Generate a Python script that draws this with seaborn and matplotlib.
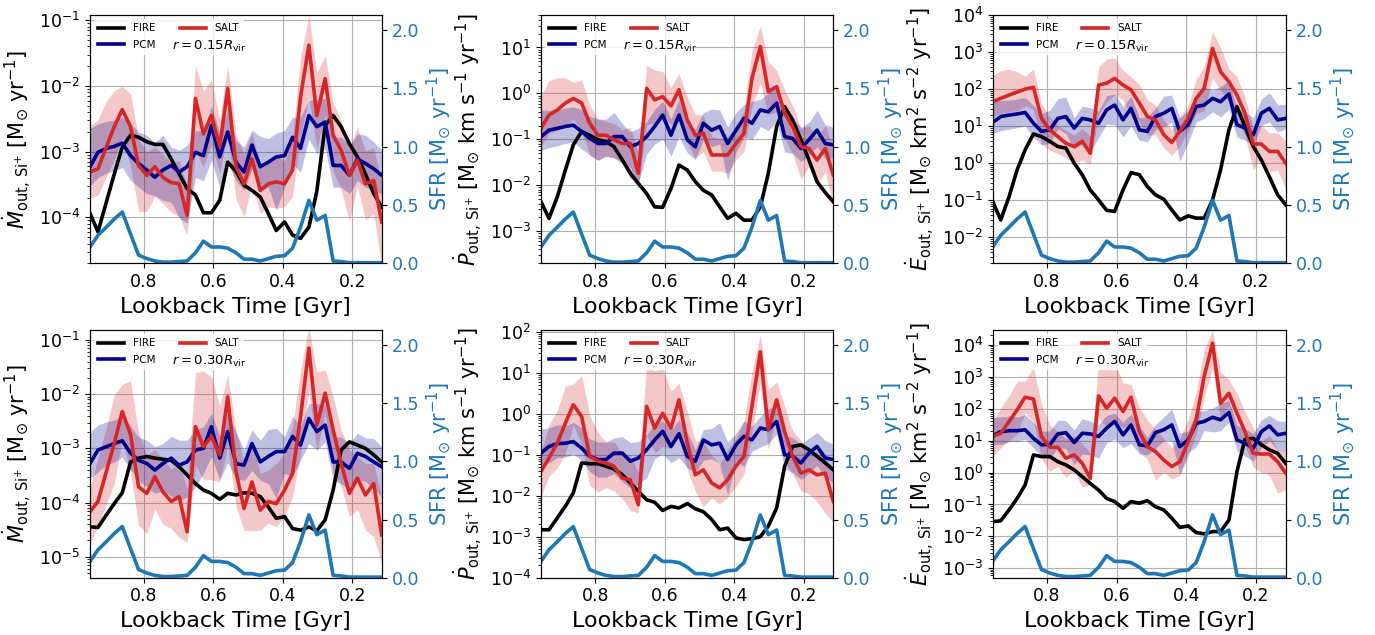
import numpy as np
import matplotlib
matplotlib.use("Agg")
import matplotlib.pyplot as plt
from matplotlib.ticker import LogLocator
import seaborn as sns

# ---------------- data (log10 of outflow rates unless noted) ----------------
lookback = [0.956, 0.933, 0.909, 0.886, 0.863, 0.839, 0.816, 0.792, 0.769, 0.746,
            0.722, 0.699, 0.676, 0.652, 0.629, 0.606, 0.582, 0.559, 0.535, 0.512,
            0.489, 0.465, 0.442, 0.419, 0.395, 0.372, 0.349, 0.325, 0.302, 0.278,
            0.255, 0.232, 0.208, 0.185, 0.162, 0.138, 0.115]

sfr = [0.14, 0.24, 0.31, 0.38, 0.44, 0.25, 0.07, 0.04, 0.02, 0.01, 0.01, 0.015, 0.02,
       0.09, 0.19, 0.14, 0.14, 0.13, 0.09, 0.035, 0.035, 0.02, 0.04, 0.06, 0.065, 0.13,
       0.31, 0.54, 0.37, 0.41, 0.02, 0.015, 0.005, 0.005, 0.005, 0.005, 0.005]

fire_mdot_15 = [-3.94, -4.22, -3.77, -3.34, -2.93, -2.75, -2.78, -2.85, -2.89, -2.89, -3.11, -3.34, -3.56,
                -3.66, -3.93, -3.93, -3.74, -3.16, -3.30, -3.51, -3.59, -3.69, -3.94, -4.20, -4.07, -4.27,
                -4.32, -4.15, -3.60, -2.60, -2.45, -2.62, -2.88, -3.08, -3.34, -3.64, -3.84]
salt_mdot_15 = [-3.31, -3.26, -2.93, -2.62, -2.36, -2.62, -3.21, -3.36, -3.23, -3.39, -3.47, -3.49, -3.97,
                -2.19, -2.73, -2.45, -2.92, -2.04, -3.23, -3.49, -3.11, -3.59, -3.49, -3.46, -3.49, -3.28,
                -2.17, -1.38, -2.45, -1.89, -2.75, -2.98, -3.36, -3.13, -3.49, -3.44, -4.07]
pcm_mdot_15 = [-3.23, -3.01, -2.95, -2.92, -2.87, -3.06, -3.18, -3.28, -3.39, -3.28, -3.21, -3.31, -3.23,
               -3.01, -3.06, -2.60, -3.08, -2.70, -3.16, -3.31, -2.90, -3.23, -3.16, -3.08, -3.06, -2.78,
               -2.95, -2.45, -2.62, -2.55, -3.21, -3.21, -3.36, -3.11, -3.18, -3.26, -3.36]

fire_pdot_15 = [-2.36, -2.72, -2.25, -1.67, -1.12, -0.83, -0.91, -1.01, -1.05, -1.16, -1.45, -1.74, -1.96,
                -2.18, -2.47, -2.48, -2.07, -1.56, -1.67, -1.92, -2.11, -2.21, -2.47, -2.72, -2.61, -2.76,
                -2.76, -2.47, -1.74, -0.72, -0.29, -0.58, -1.01, -1.45, -1.92, -2.16, -2.36]
salt_pdot_15 = [-0.76, -0.47, -0.36, -0.21, -0.11, -0.21, -0.65, -0.91, -0.91, -1.01, -1.09, -1.09, -1.74,
                0.11, -0.14, -0.07, -0.27, 0.08, -0.58, -0.91, -0.87, -1.34, -1.34, -1.34, -1.09, -0.87,
                0.33, 1.02, 0.04, 0.15, -0.43, -0.72, -1.16, -1.20, -1.45, -1.20, -1.78]
pcm_pdot_15 = [-0.94, -0.80, -0.76, -0.72, -0.69, -0.83, -0.98, -1.09, -1.09, -0.94, -0.94, -1.16, -1.09,
               -0.94, -0.72, -0.47, -0.91, -0.47, -1.01, -1.16, -0.65, -0.80, -0.72, -1.09, -0.80, -0.54,
               -0.65, -0.36, -0.40, -0.21, -0.94, -0.98, -1.20, -1.01, -0.80, -1.09, -1.12]

fire_edot_15 = [-1.03, -1.53, -0.90, -0.18, 0.36, 0.79, 0.72, 0.59, 0.45, 0.41, 0.00, -0.31, -0.72,
                -0.99, -1.27, -1.30, -0.72, -0.25, -0.31, -0.63, -0.85, -0.97, -1.26, -1.53, -1.42, -1.48,
                -1.48, -0.99, -0.18, 0.90, 1.53, 0.99, 0.45, 0.09, -0.36, -0.85, -1.12]
salt_edot_15 = [1.66, 1.75, 1.84, 1.92, 2.00, 2.05, 1.21, 0.90, 0.72, 0.54, 0.45, 0.59, 0.27,
                2.11, 2.16, 2.29, 2.11, 1.98, 1.62, 1.26, 1.17, 0.77, 0.56, 0.86, 1.21, 1.75,
                2.02, 3.10, 2.47, 2.20, 1.84, 1.35, 0.52, 0.52, 0.32, 0.32, 0.00]
pcm_edot_15 = [1.10, 1.26, 1.30, 1.33, 1.37, 1.08, 0.86, 0.90, 1.21, 1.26, 0.95, 1.21, 1.17,
               1.08, 1.44, 1.57, 1.17, 1.48, 0.90, 0.86, 1.26, 1.35, 1.48, 0.86, 1.04, 1.53,
               1.57, 1.75, 1.66, 1.87, 1.04, 0.95, 0.77, 1.35, 1.48, 1.17, 1.21]

fire_mdot_30 = [-4.45, -4.46, -4.23, -4.02, -3.82, -3.25, -3.18, -3.15, -3.18, -3.20, -3.22, -3.34, -3.49,
                -3.65, -3.77, -3.83, -3.94, -3.83, -3.86, -3.82, -3.83, -3.89, -4.08, -4.29, -4.26, -4.48,
                -4.51, -4.45, -4.52, -4.32, -3.77, -3.03, -2.88, -2.94, -3.00, -3.12, -3.25]
salt_mdot_30 = [-4.17, -3.98, -3.43, -2.91, -2.32, -2.75, -3.71, -3.83, -3.52, -3.80, -3.98, -3.89, -4.54,
                -2.60, -2.97, -2.78, -3.12, -2.05, -3.43, -4.11, -3.62, -4.14, -3.98, -4.02, -3.77, -3.46,
                -2.42, -1.15, -2.57, -1.98, -2.66, -3.28, -3.83, -3.55, -3.86, -3.65, -4.60]
pcm_mdot_30 = [-3.28, -3.03, -2.97, -2.91, -2.86, -3.09, -3.22, -3.28, -3.40, -3.28, -3.18, -3.31, -3.25,
               -3.03, -3.00, -2.60, -3.18, -2.69, -3.28, -3.31, -2.91, -3.25, -3.15, -3.06, -3.06, -2.78,
               -2.94, -2.45, -2.69, -2.57, -3.25, -3.25, -3.37, -3.09, -3.15, -3.25, -3.34]

fire_pdot_30 = [-2.83, -2.83, -2.54, -2.26, -1.93, -1.20, -1.22, -1.22, -1.28, -1.35, -1.49, -1.69, -1.89,
                -2.10, -2.16, -2.36, -2.26, -2.30, -2.19, -2.32, -2.39, -2.58, -2.83, -2.79, -3.03, -3.07,
                -3.05, -3.00, -2.74, -2.30, -1.28, -0.80, -0.76, -0.88, -1.04, -1.20, -1.37]
salt_pdot_30 = [-1.41, -1.08, -0.72, -0.23, 0.22, -0.07, -1.04, -1.16, -1.20, -1.28, -1.57, -1.61, -2.22,
                0.18, -0.35, 0.01, -0.35, 0.34, -0.72, -1.49, -1.37, -1.69, -1.81, -1.61, -1.28, -1.04,
                0.18, 1.51, -0.39, 0.34, -0.43, -1.04, -1.45, -1.37, -1.49, -1.45, -2.14]
pcm_pdot_30 = [-0.96, -0.80, -0.73, -0.72, -0.68, -0.84, -1.04, -1.12, -1.12, -0.96, -0.96, -1.16, -1.08,
               -0.88, -0.64, -0.43, -0.80, -0.49, -1.04, -1.16, -0.64, -0.76, -0.72, -1.12, -0.76, -0.55,
               -0.64, -0.35, -0.39, -0.19, -1.00, -1.04, -1.20, -0.96, -0.80, -1.08, -1.12]

fire_edot_30 = [-1.54, -1.51, -1.17, -0.81, -0.39, 0.55, 0.50, 0.50, 0.34, 0.24, 0.08, -0.13, -0.34,
                -0.55, -0.81, -0.91, -1.12, -0.91, -0.96, -0.88, -1.07, -1.17, -1.43, -1.72, -1.67, -1.88,
                -1.92, -1.85, -1.85, -1.49, 0.03, 1.04, 1.07, 0.87, 0.71, 0.60, 0.29]
salt_edot_30 = [1.13, 1.23, 1.60, 1.96, 2.36, 2.30, 1.13, 0.79, 0.79, 0.45, 0.55, 0.29, -0.18,
                2.40, 2.01, 2.33, 1.91, 2.36, 1.28, 0.81, 0.66, 0.39, 0.19, 0.34, 0.97, 1.65,
                3.01, 4.05, 2.17, 2.48, 1.86, 1.28, 0.60, 0.58, 0.58, 0.34, -0.02]
pcm_edot_30 = [1.15, 1.28, 1.31, 1.31, 1.34, 1.07, 0.87, 0.87, 1.21, 1.25, 0.94, 1.23, 1.21,
               1.13, 1.39, 1.60, 1.18, 1.49, 0.87, 0.83, 1.25, 1.34, 1.49, 0.81, 1.02, 1.54,
               1.60, 1.73, 1.65, 1.88, 1.02, 0.92, 0.76, 1.28, 1.46, 1.18, 1.23]

# band widths (dex above / below the median line)
salt_up_15 = [0.70, 0.75, 0.70, 0.55, 0.35, 0.50, 0.40, 0.35, 0.30, 0.35, 0.30, 0.35, 0.45, 0.50, 0.65, 0.55,
              0.40, 0.35, 0.50, 0.45, 0.40, 0.40, 0.35, 0.40, 0.35, 0.50, 0.60, 0.45, 0.65, 0.35, 0.50, 0.45,
              0.40, 0.50, 0.50, 0.50, 0.60]
salt_dn_15 = [0.40, 0.40, 0.45, 0.50, 0.45, 0.60, 0.70, 0.55, 0.45, 0.40, 0.45, 0.50, 0.30, 0.80, 0.50, 0.45,
              0.40, 0.70, 0.50, 0.50, 0.40, 0.35, 0.35, 0.40, 0.35, 0.40, 0.60, 0.80, 0.50, 0.55, 0.55, 0.60,
              0.70, 0.40, 0.55, 0.50, 0.70]
pcm_up_15 = [0.58, 0.43, 0.41, 0.40, 0.40, 0.48, 0.48, 0.53, 0.53, 0.53, 0.28, 0.33, 0.33, 0.33, 0.38, 0.30,
             0.36, 0.33, 0.33, 0.38, 0.23, 0.46, 0.36, 0.36, 0.38, 0.30, 0.48, 0.23, 0.41, 0.36, 0.43, 0.43,
             0.46, 0.38, 0.43, 0.41, 0.38]
pcm_dn_15 = [0.30, 0.38, 0.38, 0.37, 0.37, 0.38, 0.36, 0.36, 0.28, 0.46, 0.56, 0.69, 0.86, 0.38, 0.38, 0.53,
             0.46, 0.48, 0.28, 0.28, 0.36, 0.36, 0.38, 0.81, 0.48, 0.41, 0.36, 0.36, 0.41, 0.41, 0.33, 0.33,
             0.28, 0.33, 0.36, 0.33, 0.28]
salt_up_30 = [0.45, 0.80, 0.80, 0.90, 0.50, 1.00, 1.00, 0.70, 0.50, 0.60, 0.60, 0.60, 0.80, 1.00, 1.40, 1.10,
              0.90, 0.40, 0.77, 0.83, 0.70, 0.68, 0.58, 0.74, 0.68, 0.86, 0.86, 0.40, 0.98, 0.43, 0.62, 0.62,
              0.80, 0.40, 0.58, 0.37, 0.70]
salt_dn_30 = [0.60, 0.45, 0.60, 0.75, 0.50, 0.70, 0.70, 0.75, 0.60, 0.60, 0.50, 0.75, 0.20, 0.70, 0.60, 0.80,
              0.50, 0.90, 0.65, 0.40, 0.90, 0.37, 0.40, 0.43, 0.49, 0.43, 0.68, 0.77, 0.49, 0.37, 0.74, 0.43,
              0.43, 0.58, 0.65, 0.98, 0.52]
pcm_up_30 = [0.58, 0.46, 0.46, 0.43, 0.47, 0.50, 0.43, 0.43, 0.43, 0.37, 0.40, 0.46, 0.40, 0.37, 0.40, 0.25,
             0.40, 0.34, 0.58, 0.28, 0.25, 0.40, 0.50, 0.43, 0.28, 0.37, 0.34, 0.28, 0.52, 0.37, 0.46, 0.46,
             0.46, 0.37, 0.34, 0.43, 0.37]
pcm_dn_30 = [0.28, 0.40, 0.34, 0.34, 0.30, 0.30, 0.37, 0.43, 0.43, 0.50, 0.70, 0.65, 0.65, 0.68, 0.46, 0.55,
             0.40, 0.58, 0.28, 0.28, 0.50, 0.34, 0.50, 0.86, 0.40, 0.74, 0.28, 0.46, 0.34, 0.31, 0.34, 0.40,
             0.40, 0.50, 0.46, 0.49, 0.55]

ylabels = [r'$\dot{M}_{\rm out,\,Si^{+}}$ [M$_{\odot}$ yr$^{-1}$]',
           r'$\dot{P}_{\rm out,\,Si^{+}}$ [M$_{\odot}$ km s$^{-1}$ yr$^{-1}$]',
           r'$\dot{E}_{\rm out,\,Si^{+}}$ [M$_{\odot}$ km$^{2}$ s$^{-2}$ yr$^{-1}$]']
radius_labels = [r'$r = 0.15R_{\rm vir}$', r'$r = 0.30R_{\rm vir}$']
xticks = [0.8, 0.6, 0.4, 0.2]
sfr_ticks = [0.0, 0.5, 1.0, 1.5, 2.0]

# ---------------- figure ----------------
W, H = 1375, 635
fig = plt.figure(figsize=(W / 100, H / 100), dpi=100)

C_FIRE = 'black'
C_SALT = '#d62728'
C_PCM = '#00008b'
C_SFR = '#1f77b4'

panels = [
    (fire_mdot_15, salt_mdot_15, pcm_mdot_15, salt_up_15, salt_dn_15, pcm_up_15, pcm_dn_15, 0, (2.0e-5, 0.12), 0, (90, 381.7, 15, 263.3)),
    (fire_pdot_15, salt_pdot_15, pcm_pdot_15, salt_up_15, salt_dn_15, pcm_up_15, pcm_dn_15, 1, (2.0e-4, 51), 0, (541, 833.3, 15, 263.3)),
    (fire_edot_15, salt_edot_15, pcm_edot_15, salt_up_15, salt_dn_15, pcm_up_15, pcm_dn_15, 2, (2.0e-3, 1.0e4), 0, (992.7, 1285.7, 15, 263.3)),
    (fire_mdot_30, salt_mdot_30, pcm_mdot_30, salt_up_30, salt_dn_30, pcm_up_30, pcm_dn_30, 0, (4.1e-6, 0.153), 1, (90, 381.7, 330, 577.7)),
    (fire_pdot_30, salt_pdot_30, pcm_pdot_30, salt_up_30, salt_dn_30, pcm_up_30, pcm_dn_30, 1, (1.0e-4, 110), 1, (541, 833.3, 330, 577.7)),
    (fire_edot_30, salt_edot_30, pcm_edot_30, salt_up_30, salt_dn_30, pcm_up_30, pcm_dn_30, 2, (5.1e-4, 2.9e4), 1, (992.7, 1285.7, 330, 577.7)),
]

t = np.array(lookback)
LW = 2.6

for fire, salt, pcm, s_up, s_dn, p_up, p_dn, yl, ylim, ri, (x0, x1, y0, y1) in panels:
    ax = fig.add_axes([x0 / W, 1 - y1 / H, (x1 - x0) / W, (y1 - y0) / H])
    ax.set_yscale('log')
    salt_a = np.array(salt)
    pcm_a = np.array(pcm)
    ax.fill_between(t, 10 ** (salt_a - np.array(s_dn)), 10 ** (salt_a + np.array(s_up)),
                    color=C_SALT, alpha=0.25, lw=0, zorder=1)
    ax.fill_between(t, 10 ** (pcm_a - np.array(p_dn)), 10 ** (pcm_a + np.array(p_up)),
                    color=C_PCM, alpha=0.25, lw=0, zorder=1)
    sns.lineplot(x=t, y=10 ** np.array(fire), ax=ax, color=C_FIRE, lw=LW, label='FIRE', zorder=3)
    sns.lineplot(x=t, y=10 ** pcm_a, ax=ax, color=C_PCM, lw=LW, label='PCM', zorder=3)
    sns.lineplot(x=t, y=10 ** salt_a, ax=ax, color=C_SALT, lw=LW, label='SALT', zorder=4)
    ax.set_xlim(t[0], t[-1])
    ax.set_ylim(*ylim)
    ax.yaxis.set_major_locator(LogLocator(base=10, numticks=20))
    ax.yaxis.set_minor_locator(LogLocator(base=10, subs=np.arange(2, 10) * 0.1, numticks=20))
    ax.set_xticks(xticks)
    ax.set_xticklabels([f'{v:.1f}' for v in xticks])
    ax.grid(True, which='major', color='#b0b0b0', lw=0.8)
    ax.set_axisbelow(True)
    ax.tick_params(axis='both', which='major', labelsize=12.5)
    ax.set_xlabel('Lookback Time [Gyr]', fontsize=16)
    ax.set_ylabel(ylabels[yl], fontsize=15)
    ax.legend(loc='upper left', ncol=2, fontsize=7.5, frameon=True, framealpha=0.8,
              edgecolor='white', handlelength=2.5, handletextpad=0.85, borderaxespad=0.4,
              columnspacing=2.3, labelspacing=0.6)
    ax.text(0.280, 0.872, radius_labels[ri], transform=ax.transAxes, fontsize=9.5,
            ha='left', va='center', zorder=6)

    ax2 = ax.twinx()
    sns.lineplot(x=t, y=sfr, ax=ax2, color=C_SFR, lw=LW, legend=False)
    ax2.set_ylim(0, 2.13)
    ax2.set_yticks(sfr_ticks)
    ax2.set_yticklabels([f'{v:.1f}' for v in sfr_ticks])
    ax2.tick_params(axis='y', labelcolor=C_SFR, labelsize=12.5)
    ax2.set_ylabel(r'SFR [M$_{\odot}$ yr$^{-1}$]', color=C_SFR, fontsize=15)
    ax2.set_xlim(t[0], t[-1])

fig.savefig('out.png', dpi=100)
